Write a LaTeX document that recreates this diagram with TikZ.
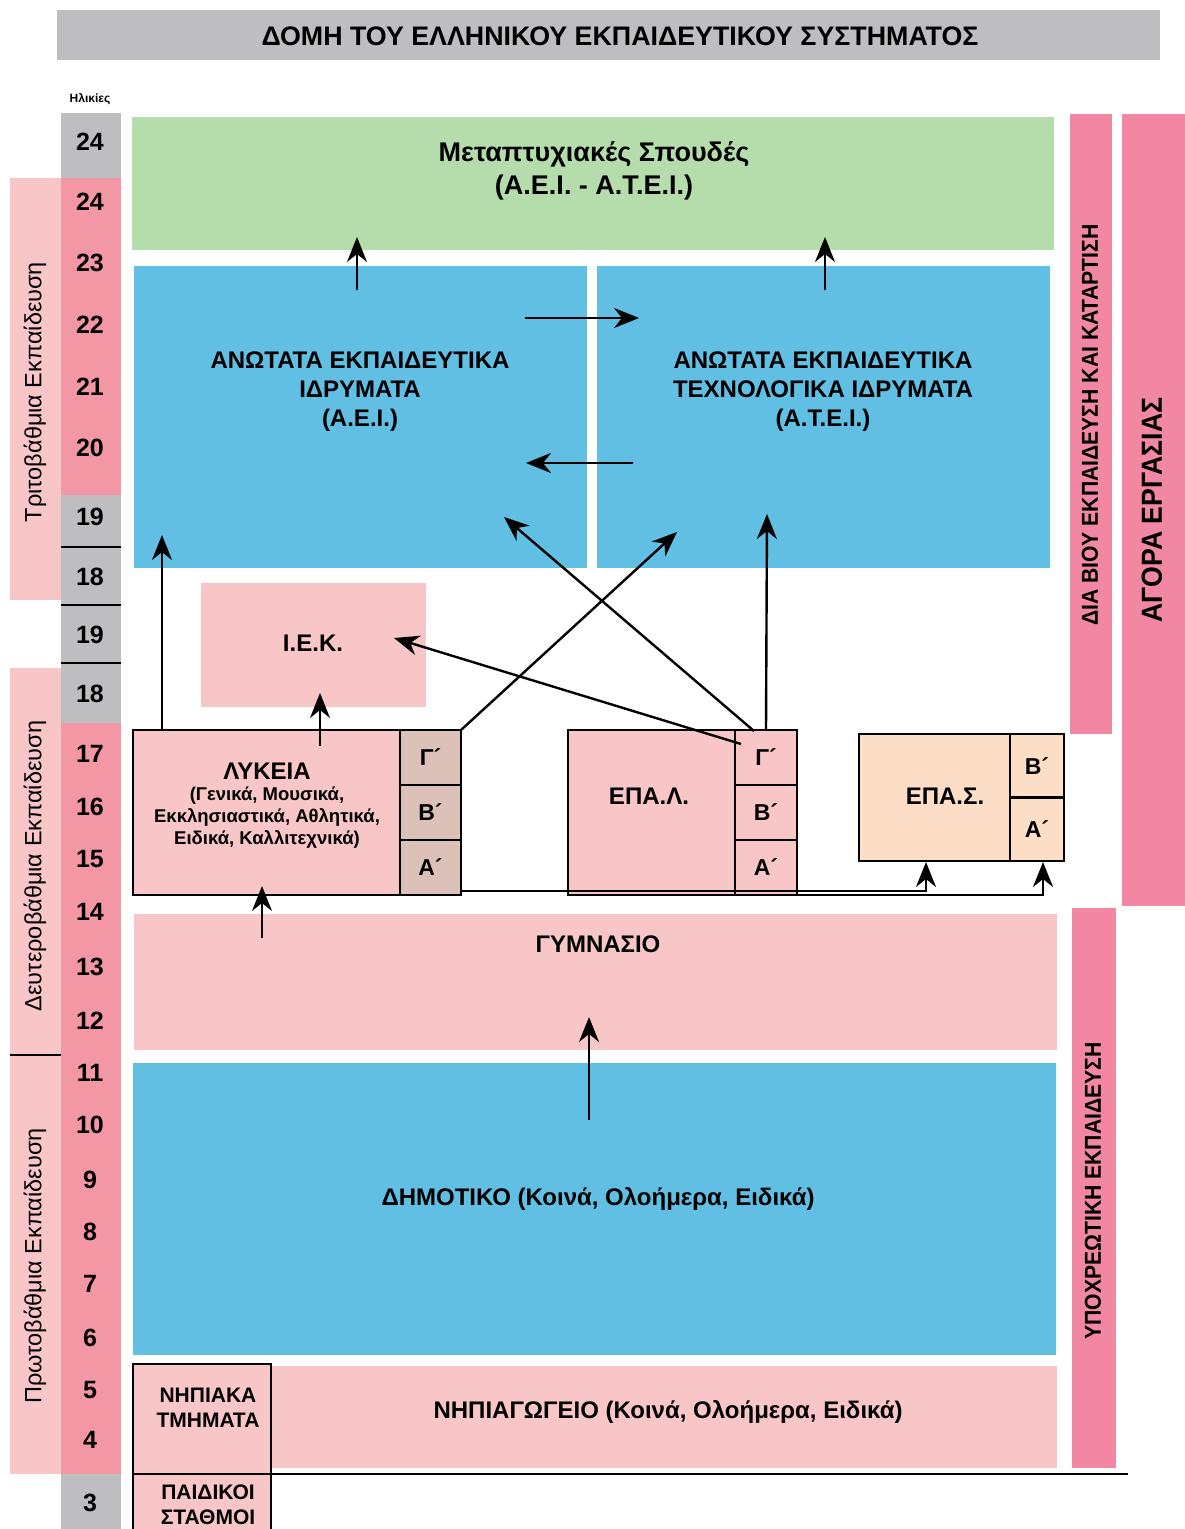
\documentclass[tikz,border=0pt]{standalone}
\usepackage{fontspec}
\setmainfont{Liberation Sans}
\newfontfamily\narrowsf[FakeStretch=0.92]{Liberation Sans}
\usetikzlibrary{arrows.meta}

\definecolor{titlegray}{RGB}{190,190,192}
\definecolor{agepink}{RGB}{244,151,164}
\definecolor{softpink}{RGB}{249,198,199}
\definecolor{uniblue}{RGB}{96,191,227}
\definecolor{pggreen}{RGB}{181,221,171}
\definecolor{peach}{RGB}{252,221,198}
\definecolor{classtan}{RGB}{219,193,184}
\definecolor{rosebar}{RGB}{242,135,163}

\newcommand{\fsz}[2]{\fontsize{#1}{#2}\selectfont}

\begin{document}
\begin{tikzpicture}[x=1pt,y=-1pt]
        \tikzstyle{every node}=[inner sep=0pt, outer sep=0pt]
        \tikzstyle{block}=[rectangle, anchor=north west]
        \tikzstyle{framed}=[block, draw=black, line width=2.5pt]
        \tikzstyle{classcell}=[framed, fill=classtan, minimum width=61pt, minimum height=55pt, font=\bfseries\fsz{23}{23}]
        \tikzstyle{boxtext}=[align=center, font=\bfseries\fsz{24}{29}]
        \tikzstyle{agenum}=[font=\bfseries\fsz{25}{25}]
        \tikzstyle{levelname}=[rotate=90, font=\fsz{23.5}{23.5}]
        \tikzstyle{barname}=[rotate=90, font=\narrowsf\bfseries\fsz{23}{23}]
        \tikzstyle{link}=[line width=2.4pt, -{Stealth[length=25pt,width=20pt,inset=8pt]}]

        \useasboundingbox (0,0) rectangle (1185,1529);

        % heading
        \node[block, fill=titlegray, minimum width=1103pt, minimum height=50pt] (title) at (57,10) {};
        \node[font=\bfseries\fsz{26.8}{26.8}] (titletext) at (620,36) {ΔΟΜΗ ΤΟΥ ΕΛΛΗΝΙΚΟΥ ΕΚΠΑΙΔΕΥΤΙΚΟΥ ΣΥΣΤΗΜΑΤΟΣ};
        \node[font=\bfseries\fsz{12}{12}] (ages) at (90,99) {Ηλικίες};

        % age column
        \fill[titlegray] (61,113) rectangle (121,178);
        \fill[agepink] (61,178) rectangle (121,495);
        \fill[titlegray] (61,495) rectangle (121,723);
        \fill[agepink] (61,723) rectangle (121,1474);
        \fill[titlegray] (61,1474) rectangle (121,1529);
        \foreach \y in {547,605,663}
            \draw[line width=2.5pt] (61,\y) -- (121,\y);
        \foreach \a/\y [count=\i] in {24/142,24/202,23/263,22/325,21/387,20/448,19/517,18/577,19/635,18/694,17/754,16/807,15/859,14/912,13/967,12/1021,11/1073,10/1125,9/1180,8/1232,7/1284,6/1338,5/1390,4/1440,3/1503}
            \node[agenum] (age\i) at (90,\y) {\a};

        \fill[softpink] (10,178) rectangle (61,600);
        \fill[softpink] (10,668) rectangle (61,1474);
        \draw[line width=2.5pt] (10,1055) -- (61,1055);
        \node[levelname] (tertiary) at (35,392) {Τριτοβάθμια Εκπαίδευση};
        \node[levelname] (secondary) at (35,866) {Δευτεροβάθμια Εκπαίδευση};
        \node[levelname] (primary) at (35,1266) {Πρωτοβάθμια Εκπαίδευση};

        % side bars
        \node[block, fill=rosebar, minimum width=42pt, minimum height=620pt] (lifelong) at (1070,114) {};
        \node[block, fill=rosebar, minimum width=63pt, minimum height=792pt] (market) at (1122,114) {};
        \node[block, fill=rosebar, minimum width=44pt, minimum height=560pt] (compulsory) at (1072,908) {};
        \node[barname] (lifelongtext) at (1090,425) {ΔΙΑ ΒΙΟΥ ΕΚΠΑΙΔΕΥΣΗ ΚΑΙ ΚΑΤΑΡΤΙΣΗ};
        \node[barname, font=\narrowsf\bfseries\fsz{29}{29}] (markettext) at (1152,510) {ΑΓΟΡΑ ΕΡΓΑΣΙΑΣ};
        \node[barname] (compulsorytext) at (1093,1191) {ΥΠΟΧΡΕΩΤΙΚΗ ΕΚΠΑΙΔΕΥΣΗ};

        % schools
        \node[block, fill=pggreen, minimum width=922pt, minimum height=133pt] (postgrad) at (132,117) {};
        \node[block, fill=uniblue, minimum width=453pt, minimum height=302pt] (aei) at (134,266) {};
        \node[block, fill=uniblue, minimum width=453pt, minimum height=302pt] (atei) at (597,266) {};
        \node[block, fill=softpink, minimum width=225pt, minimum height=124pt] (iek) at (201,583) {};

        \node[framed, fill=softpink, minimum width=267pt, minimum height=165pt] (lyk) at (133,730) {};
        \node[classcell] (lykC) at (400,730) {Γ´};
        \node[classcell] (lykB) at (400,785) {Β´};
        \node[classcell] (lykA) at (400,840) {Α´};

        \node[framed, fill=softpink, minimum width=167pt, minimum height=165pt] (epal) at (568,730) {};
        \node[classcell, fill=softpink, minimum width=62pt] (epalC) at (735,730) {Γ´};
        \node[classcell, fill=softpink, minimum width=62pt] (epalB) at (735,785) {Β´};
        \node[classcell, fill=softpink, minimum width=62pt] (epalA) at (735,840) {Α´};

        \node[framed, fill=peach, minimum width=151pt, minimum height=127pt] (epas) at (859,734) {};
        \node[classcell, fill=peach, minimum width=54pt, minimum height=63.5pt] (epasB) at (1010,734) {Β´};
        \node[classcell, fill=peach, minimum width=54pt, minimum height=63.5pt] (epasA) at (1010,797.5) {Α´};

        \node[block, fill=softpink, minimum width=923pt, minimum height=136pt] (gym) at (134,914) {};
        \node[block, fill=uniblue, minimum width=923pt, minimum height=292pt] (dim) at (133,1063) {};
        \node[block, fill=softpink, minimum width=785pt, minimum height=102pt] (nipiag) at (272,1366) {};
        \node[framed, fill=softpink, minimum width=138pt, minimum height=110pt] (niptm) at (133,1364) {};
        \node[framed, fill=softpink, minimum width=138pt, minimum height=70pt] (paid) at (133,1474) {};
        \coordinate (baseend) at (1128,1474);
        \draw[line width=2.5pt] (niptm.south east) -- (baseend);

        \node[boxtext, font=\bfseries\fsz{27}{33}] (pgtext) at (594,171) {Μεταπτυχιακές Σπουδές\\(Α.Ε.Ι. - Α.Τ.Ε.Ι.)};
        \node[boxtext] (aeitext) at (360,392) {ΑΝΩΤΑΤΑ ΕΚΠΑΙΔΕΥΤΙΚΑ\\ΙΔΡΥΜΑΤΑ\\(Α.Ε.Ι.)};
        \node[boxtext] (ateitext) at (823,392) {ΑΝΩΤΑΤΑ ΕΚΠΑΙΔΕΥΤΙΚΑ\\ΤΕΧΝΟΛΟΓΙΚΑ ΙΔΡΥΜΑΤΑ\\(Α.Τ.Ε.Ι.)};
        \node[boxtext] (iektext) at (313,643) {Ι.Ε.Κ.};
        \node[boxtext] (lyktitle) at (267,771) {ΛΥΚΕΙΑ};
        \node[boxtext, font=\bfseries\fsz{18.5}{22}] (lyksub) at (267,818) {(Γενικά, Μουσικά,\\Εκκλησιαστικά, Αθλητικά,\\Ειδικά, Καλλιτεχνικά)};
        \node[boxtext] (epaltext) at (649,796) {ΕΠΑ.Λ.};
        \node[boxtext] (epastext) at (945,796) {ΕΠΑ.Σ.};
        \node[boxtext] (gymtext) at (598,944) {ΓΥΜΝΑΣΙΟ};
        \node[boxtext] (dimtext) at (598,1199) {ΔΗΜΟΤΙΚΟ (Κοινά, Ολοήμερα, Ειδικά)};
        \node[boxtext] (nipiagtext) at (668,1412) {ΝΗΠΙΑΓΩΓΕΙΟ (Κοινά, Ολοήμερα, Ειδικά)};
        \node[boxtext, font=\bfseries\fsz{21}{25}] (niptmtext) at (208,1408) {ΝΗΠΙΑΚΑ\\ΤΜΗΜΑΤΑ};
        \node[boxtext, font=\bfseries\fsz{21}{25}] (paidtext) at (208,1505) {ΠΑΙΔΙΚΟΙ\\ΣΤΑΘΜΟΙ};

        % paths
        \coordinate (aeitop) at (357,290);    \coordinate (pgleft) at (357,237);
        \coordinate (ateitop) at (825,290);   \coordinate (pgright) at (825,237);
        \coordinate (crossA) at (525,318);    \coordinate (crossB) at (639,318);
        \coordinate (backA) at (633,463);     \coordinate (backB) at (526,463);
        \coordinate (lykleft) at (162,730);   \coordinate (aeibottom) at (162,535);
        \coordinate (lykmid) at (320,746);    \coordinate (iekbottom) at (320,693);
        \coordinate (ateilow) at (677,532);
        \coordinate (epaldiag) at (754,731);  \coordinate (aeilow) at (504,517);
        \coordinate (epalup) at (766,730);    \coordinate (ateibottom) at (767,514);
        \coordinate (epalin) at (741,744);    \coordinate (iekright) at (394,638);
        \coordinate (gymtop) at (262,938);    \coordinate (lykbottom) at (262,886);
        \coordinate (dimtop) at (589,1120);   \coordinate (gymmid) at (589,1017);
        \coordinate (lykout) at (461,891);
        \coordinate (epasleft) at (926,862);  \coordinate (epasright) at (1043,862);

        \draw[link] (aeitop) -- (pgleft);
        \draw[link] (ateitop) -- (pgright);
        \draw[link] (crossA) -- (crossB);
        \draw[link] (backA) -- (backB);
        \draw[link] (lykleft) -- (aeibottom);
        \draw[link] (lykmid) -- (iekbottom);
        \draw[link] (lykC.north east) -- (ateilow);
        \draw[link] (epaldiag) -- (aeilow);
        \draw[link] (epalup) -- (ateibottom);
        \draw[link] (epalin) -- (iekright);
        \draw[link] (gymtop) -- (lykbottom);
        \draw[link] (dimtop) -- (gymmid);
        \draw[link] (lykout) -| (epasleft);
        \draw[link] (epalA.south east) -| (epasright);
\end{tikzpicture}
\end{document}
